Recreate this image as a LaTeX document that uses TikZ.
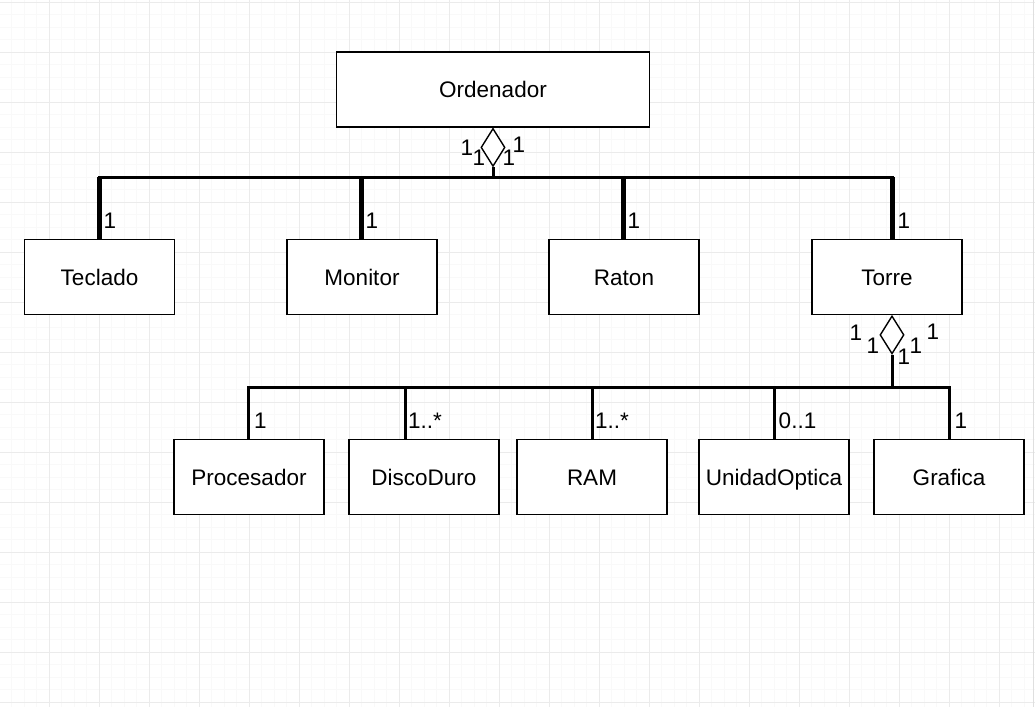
\documentclass[tikz,border=0pt]{standalone}
\usepackage{fontspec}
\setmainfont{Liberation Sans}
\usepackage{tikz}
\usetikzlibrary{calc}
\usetikzlibrary{shapes.geometric}
\tikzset{classe/.style={draw=black, line width=0.7pt, fill=white, minimum width=75pt, minimum height=37.5pt, inner sep=0pt, text height=8pt, text depth=0pt, font=\fontsize{11.25}{13}\selectfont}}
\tikzset{molt/.style={inner sep=0pt, text height=8pt, text depth=0pt, font=\fontsize{11.25}{13}\selectfont}}
\tikzset{aggr/.style={diamond, draw=black, line width=0.7pt, fill=white, minimum width=12pt, minimum height=19pt, inner sep=0pt}}

\begin{document}
\begin{tikzpicture}[x=0.5pt, y=-0.5pt]
	\useasboundingbox (0,0) rectangle (1035,707);

	%% Griglia
	\begin{scope}
	\clip (0,0) rectangle (1035,707);
	\foreach \i in {0,...,83} \draw[gray!5, line width=0.5pt] ({-1+12.5*\i},0) -- ++(0,707);
	\foreach \i in {0,...,57} \draw[gray!5, line width=0.5pt] (0,{2+12.5*\i}) -- ++(1035,0);
	\foreach \i in {0,...,20} \draw[gray!16, line width=0.5pt] ({-1+50*\i},0) -- ++(0,707);
	\foreach \i in {0,...,14} \draw[gray!16, line width=0.5pt] (0,{2+50*\i}) -- ++(1035,0);
	\draw[gray!25, line width=0.8pt] (1033.5,0) -- (1033.5,707);
	\end{scope}

	\coordinate[](t1) at (99,177);
	\coordinate[](t2) at (361,177);
	\coordinate[](t3) at (623,177);
	\coordinate[](t4) at (892,177);

	\coordinate[](s1) at (248,387);
	\coordinate[](s2) at (405,387);
	\coordinate[](s3) at (592,387);
	\coordinate[](s4) at (774,387);
	\coordinate[](s5) at (949,387);

	%% Classi
	\node[classe, minimum width=156.25pt] (ordenador) at (493,89.5) {Ordenador};
	\node[classe] (teclado) at (99.5,277) {Teclado};
	\node[classe] (monitor) at (362,277) {Monitor};
	\node[classe] (raton) at (624,277) {Raton};
	\node[classe] (torre) at (887,277) {Torre};

	\node[classe] (procesador) at (249,477) {Procesador};
	\node[classe] (discoduro) at (424,477) {DiscoDuro};
	\node[classe] (ram) at (592,477) {RAM};
	\node[classe] (unidadoptica) at (774,477) {UnidadOptica};
	\node[classe] (grafica) at (949,477) {Grafica};

	%% Aggregazioni
	\node[aggr, anchor=north] (rombo1) at (ordenador.south) {};
	\node[aggr, anchor=north] (rombo2) at (t4 |- torre.south) {};

	\draw[line width=1.5pt] (rombo1.south) -- (rombo1.south |- t1);
	\draw[line width=1.5pt, line cap=rect] (t1) -- (t4);
	\draw[line width=2.5pt] (t1) -- (t1 |- teclado.north);
	\draw[line width=2.5pt] (t2) -- (t2 |- monitor.north);
	\draw[line width=2.5pt] (t3) -- (t3 |- raton.north);
	\draw[line width=2.5pt] (t4) -- (t4 |- torre.north);

	\draw[line width=1.5pt] (rombo2.south) -- (rombo2.south |- s5);
	\draw[line width=1.5pt, line cap=rect] (s1) -- (s5);
	\draw[line width=1.5pt] (s1) -- (s1 |- procesador.north);
	\draw[line width=1.5pt] (s2) -- (s2 |- discoduro.north);
	\draw[line width=1.5pt] (s3) -- (s3 |- ram.north);
	\draw[line width=1.5pt] (s4) -- (s4 |- unidadoptica.north);
	\draw[line width=1.5pt] (s5) -- (s5 |- grafica.north);

	%% Molteplicita
	\node[molt] (mo1) at (467,147) {1};
	\node[molt] (mo2) at (479,157) {1};
	\node[molt] (mo3) at (509,157) {1};
	\node[molt] (mo4) at (519,144) {1};

	\node[molt] (mt1) at (110,220) {1};
	\node[molt] (mt2) at (372,220) {1};
	\node[molt] (mt3) at (634,220) {1};
	\node[molt] (mt4) at (904,220) {1};

	\node[molt] (mr1) at (856,332) {1};
	\node[molt] (mr2) at (873,345) {1};
	\node[molt] (mr3) at (904,356) {1};
	\node[molt] (mr4) at (916,345) {1};
	\node[molt] (mr5) at (933,331) {1};

	\node[molt] (mb1) at (260.5,420) {1};
	\node[molt] (mb2) at (425,420) {1..*};
	\node[molt] (mb3) at (612,420) {1..*};
	\node[molt] (mb4) at (797.5,420) {0..1};
	\node[molt] (mb5) at (961,420) {1};
\end{tikzpicture}
\end{document}
